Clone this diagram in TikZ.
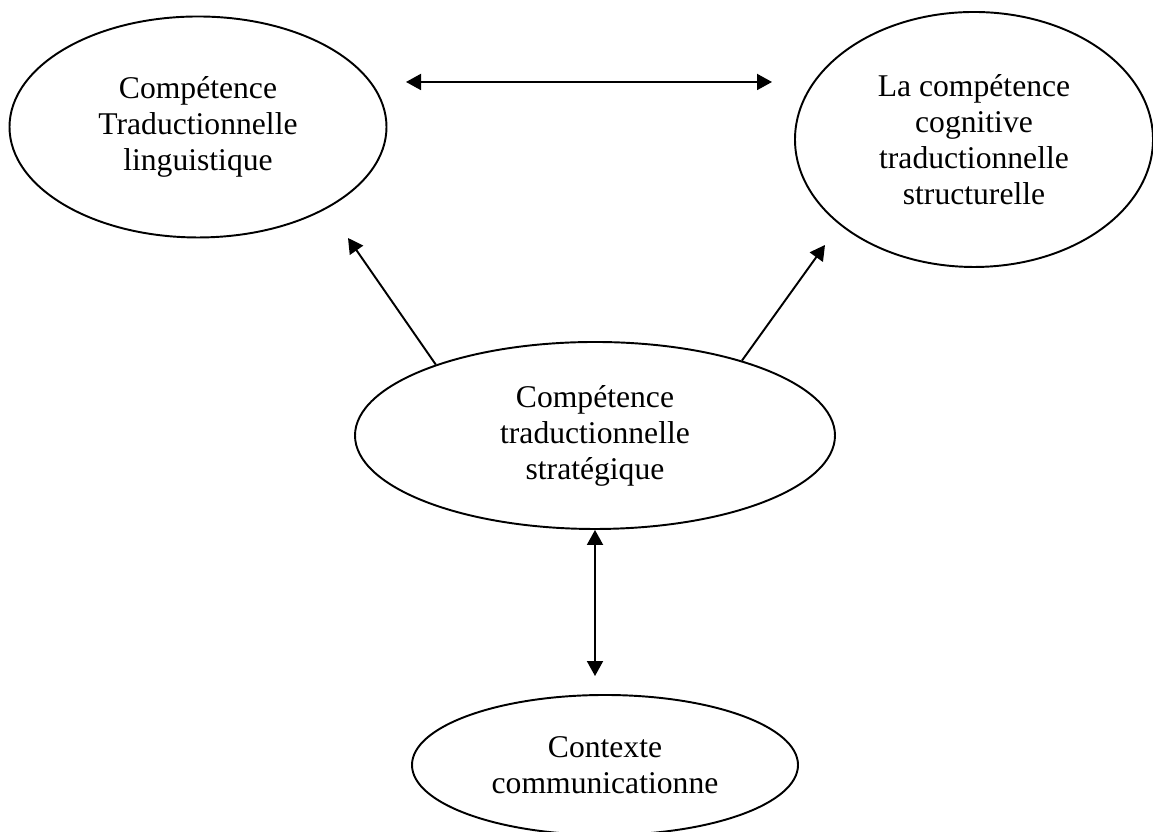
\documentclass[tikz,border=0pt]{standalone}
\usepackage{fontspec}
\setmainfont{Liberation Serif}
\usepackage{tikz}
\usetikzlibrary{shapes.geometric, arrows.meta}

\begin{document}
\begin{tikzpicture}[
		ovale/.style={draw, ellipse, line width=1.1pt, align=center, inner sep=0pt, font=\fontsize{18}{20.5}\selectfont},
		punta/.tip={Triangle[length=0.3cm, width=0.32cm]},
		freccia/.style={line width=1.1pt, -punta},
		doppia/.style={line width=1.1pt, punta-punta}
	]
		\useasboundingbox (0,0) rectangle (23.06,16.64); % Cornice della figura
		
		% Ellissi
		\node[ovale, minimum width=7.54cm, minimum height=4.42cm] (ling) at (3.96,14.10) {Compétence\\Traductionnelle\\linguistique}; % In alto a sinistra
		\node[ovale, minimum width=7.16cm, minimum height=5.1cm] (cogn) at (19.48,13.85) {La compétence\\cognitive\\traductionnelle\\structurelle}; % In alto a destra
		\node[ovale, minimum width=9.6cm, minimum height=3.74cm] (strat) at (11.90,7.93) {Compétence\\traductionnelle\\stratégique}; % Al centro
		\node[ovale, minimum width=7.72cm, minimum height=2.8cm] (ctx) at (12.10,1.34) {Contexte\\communicationne}; % In basso
		
		% Estremi liberi delle frecce
		\coordinate (hsx) at (8.12,15.0);
		\coordinate (hdx) at (15.44,15.0);
		\coordinate (psx) at (6.96,11.88);
		\coordinate (pdx) at (16.5,11.74);
		
		% Frecce
		\draw[doppia] (hsx) -- (hdx); % Tra le due ellissi in alto
		\draw[freccia] (strat.156) -- (psx); % Verso sinistra
		\draw[freccia] (strat.27) -- (pdx); % Verso destra
		\draw[doppia, shorten >=0.36cm] (strat.south) -- (strat.south |- ctx.north); % Verso il contesto
	\end{tikzpicture}
\end{document}
